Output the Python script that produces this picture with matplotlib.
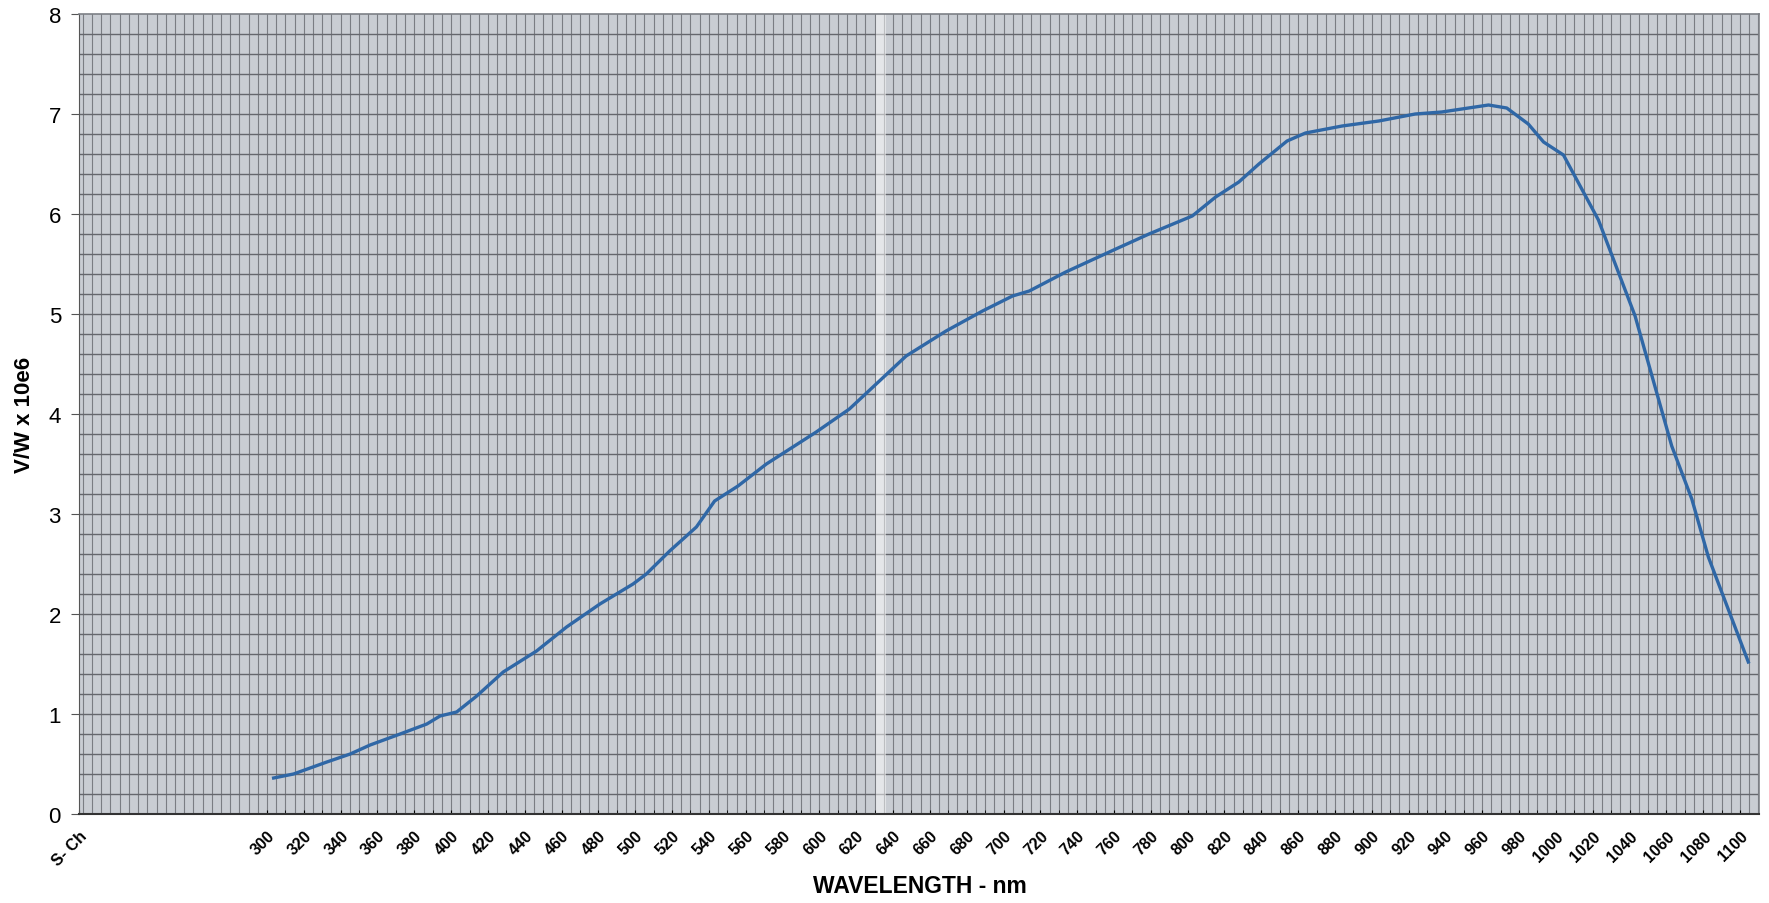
import numpy as np
import matplotlib
matplotlib.use("Agg")
import matplotlib.pyplot as plt

# values (wavelength in nm, response in V/W x 10e6)
wavelength = [303.6, 314.4, 332.5, 345.2, 356.0, 372.3, 386.8, 394.0, 403.0,
              413.9, 428.3, 446.4, 462.7, 480.8, 498.8, 506.0, 518.7, 533.2,
              543.1, 555.8, 571.2, 598.3, 616.3, 632.6, 647.1, 668.8, 688.6,
              704.9, 714.0, 733.8, 761.0, 779.0, 802.5, 815.2, 827.8, 838.7,
              854.0, 864.0, 883.9, 903.8, 923.6, 938.0, 963.4, 973.3, 985.0,
              993.3, 1004.1, 1023.1, 1043.0, 1062.9, 1073.8, 1082.8, 1104.5]
response = [0.36, 0.40, 0.52, 0.60, 0.69, 0.80, 0.90, 0.98, 1.02,
            1.18, 1.42, 1.63, 1.87, 2.10, 2.30, 2.40, 2.63, 2.87,
            3.13, 3.28, 3.50, 3.82, 4.05, 4.33, 4.58, 4.83, 5.03,
            5.18, 5.23, 5.42, 5.65, 5.80, 5.98, 6.17, 6.32, 6.50,
            6.73, 6.81, 6.88, 6.93, 7.00, 7.02, 7.09, 7.06, 6.90,
            6.72, 6.59, 5.94, 4.98, 3.68, 3.15, 2.57, 1.52]

tick_nm = list(range(300, 1101, 20))
tick_labels = [str(t) for t in tick_nm]
first_label = "S- Ch"
x_left, x_right = 197.9, 1110.3

plt.rcParams["font.family"] = ["Liberation Sans", "DejaVu Sans"]

fig = plt.figure(figsize=(17.69, 9.04), dpi=100)
ax = fig.add_axes([79 / 1769, 1 - 815 / 904, 1680 / 1769, 800 / 904])
ax.set_facecolor("#c9cdd3")

# graph-paper grid
for gx in np.arange(200, 1111, 5):
    ax.axvline(gx, color="#7a7d83", lw=0.8, zorder=1)
for gy in np.arange(0.2, 8.0, 0.2):
    ax.axhline(gy, color="#65676d", lw=1.0, zorder=1)

# scanner streak
ax.axvspan(630.5, 636, color="white", alpha=0.5, lw=0, zorder=2)

ax.plot(wavelength, response, color="#2f67a6", lw=2.4, zorder=3,
        solid_joinstyle="round")

ax.set_xlim(x_left, x_right)
ax.set_ylim(0, 8)

ax.set_xticks([x_left] + tick_nm)
ax.set_xticklabels([first_label] + tick_labels, rotation=45, ha="right",
                   va="top", rotation_mode="anchor", fontsize=11.5,
                   fontweight="bold")
ax.set_xticks(np.arange(310, 1101, 20), minor=True)
ax.tick_params(axis="x", which="both", length=3, direction="in", pad=10)

ax.set_yticks(range(0, 9))
ax.tick_params(axis="y", length=6, labelsize=16, pad=7, color="#555555")

for side in ["top", "right"]:
    ax.spines[side].set_color("#7d8086")
    ax.spines[side].set_linewidth(1.2)
ax.spines["left"].set_color("#555555")
ax.spines["bottom"].set_color("#333333")
ax.spines["bottom"].set_linewidth(1.5)

fig.text(920 / 1769, 1 - 887 / 904, "WAVELENGTH - nm", ha="center",
         va="center", fontsize=16.5, fontweight="bold")
fig.text(25 / 1769, 1 - 415 / 904, "V/W x 10e6", ha="center", va="center",
         rotation=90, fontsize=16, fontweight="bold")

fig.savefig("out.png", dpi=100)
